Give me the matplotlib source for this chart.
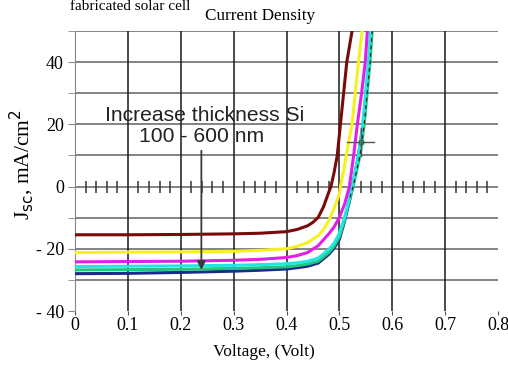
import matplotlib
matplotlib.use("Agg")
import matplotlib.pyplot as plt
import numpy as np

# ---- data ----
v_brown = [0.0, 0.1, 0.2, 0.3, 0.35, 0.40, 0.42, 0.44, 0.45, 0.46, 0.47, 0.48, 0.484, 0.49, 0.496, 0.502, 0.508, 0.514, 0.524]
j_brown = [-15.5, -15.5, -15.4, -15.2, -15.0, -14.5, -13.8, -12.6, -11.5, -9.9, -6.5, -1.8, 0.0, 4.5, 10.0, 20.0, 30.0, 40.0, 50.0]

v_yellow = [0.0, 0.1, 0.2, 0.3, 0.35, 0.40, 0.42, 0.44, 0.46, 0.47, 0.48, 0.49, 0.50, 0.502, 0.508, 0.513, 0.524, 0.536, 0.543]
j_yellow = [-21.2, -21.1, -21.0, -20.8, -20.5, -20.0, -19.2, -18.0, -15.8, -13.8, -11.0, -7.0, -2.5, 0.0, 5.0, 10.0, 20.0, 40.0, 50.0]

v_magenta = [0.0, 0.1, 0.2, 0.3, 0.35, 0.40, 0.42, 0.44, 0.46, 0.48, 0.49, 0.50, 0.51, 0.519, 0.527, 0.534, 0.542, 0.549, 0.553]
j_magenta = [-24.2, -24.1, -24.0, -23.7, -23.4, -22.8, -22.2, -21.2, -19.0, -15.2, -13.0, -9.9, -5.6, 0.0, 10.0, 20.0, 30.0, 40.0, 50.0]

v_blue = [0.0, 0.1, 0.2, 0.3, 0.35, 0.40, 0.42, 0.44, 0.46, 0.48, 0.49, 0.50, 0.51, 0.52, 0.525, 0.536, 0.545, 0.556, 0.560]
j_blue = [-28.0, -27.9, -27.6, -27.2, -26.9, -26.5, -26.1, -25.6, -24.6, -21.8, -19.8, -17.0, -11.0, -4.0, 0.0, 10.0, 20.0, 40.0, 50.0]

v_cyan = [0.0, 0.1, 0.2, 0.3, 0.35, 0.40, 0.42, 0.44, 0.46, 0.48, 0.49, 0.50, 0.51, 0.52, 0.524, 0.536, 0.544, 0.555, 0.559]
j_cyan = [-25.7, -25.6, -25.5, -25.3, -25.1, -24.8, -24.5, -24.0, -23.0, -20.2, -18.2, -15.0, -9.8, -3.0, 0.0, 10.0, 20.0, 40.0, 50.0]

v_green = [0.0, 0.1, 0.2, 0.3, 0.35, 0.40, 0.42, 0.44, 0.46, 0.48, 0.49, 0.50, 0.51, 0.52, 0.526, 0.539, 0.547, 0.558, 0.562]
j_green = [-26.8, -26.7, -26.6, -26.3, -26.1, -25.8, -25.4, -24.9, -24.0, -21.2, -19.2, -16.2, -10.5, -3.5, 0.0, 10.0, 20.0, 40.0, 50.0]

x_ticks = [0, 0.1, 0.2, 0.3, 0.4, 0.5, 0.6, 0.7, 0.8]
x_labels = ["0", "0.1", "0.2", "0.3", "0.4", "0.5", "0.6", "0.7", "0.8"]
y_ticks = [40, 20, 0, -20, -40]
y_labels = ["40", "20", "0", "- 20", "- 40"]

serif = ["Liberation Serif", "DejaVu Serif"]
sans = ["Liberation Sans", "DejaVu Sans"]

W, H = 508, 365
fig = plt.figure(figsize=(W / 100, H / 100), dpi=100)
ax = fig.add_axes([75/W, 1 - 311/H, 423/W, (311 - 31)/H])
ax.set_xlim(0, 0.8)
ax.set_ylim(-40, 50)

# grid
for yv in range(-30, 51, 10):
    ax.axhline(yv, color="#6e6e6e", lw=1.2, zorder=1)
for xv in x_ticks[1:-1]:
    ax.axvline(xv, color="#1a1a1a", lw=1.1, zorder=1)

# minor ticks on zero line
minor = [round(m + k * 0.02, 2) for m in np.arange(0, 0.8, 0.1) for k in (1, 2, 3, 4)]
ax.plot(minor, [0] * len(minor), linestyle="none", marker="|", ms=8, mew=1.1,
        color="#333333", zorder=2)

lw = 2.2
ax.plot(v_blue, j_blue, color="#1a2a8c", lw=lw, zorder=3)
ax.plot(v_green, j_green, color="#22c77a", lw=lw, zorder=4)
ax.plot(v_cyan, j_cyan, color="#22e6e0", lw=lw, zorder=5)
ax.plot(v_magenta, j_magenta, color="#e020e8", lw=lw, zorder=6)
ax.plot(v_yellow, j_yellow, color="#f5f020", lw=lw, zorder=7)
ax.plot(v_brown, j_brown, color="#7a0a0a", lw=lw, zorder=8)
ax.plot(v_green[-6:], j_green[-6:], color="#222222", lw=0.9, ls=(0, (3, 3)), zorder=9)

# cross-hair marker
cx, cy = 0.54, 14.3
ax.plot([cx - 0.025, cx + 0.025], [cy, cy], color="#555555", lw=1, zorder=10)
ax.plot([cx, cx], [cy - 4.5, cy + 4.5], color="#555555", lw=1, zorder=10)
ax.plot([cx], [cy], marker="o", ms=3.5, mfc="none", mec="#2a7a4a", zorder=11)

# annotation
ax.annotate("", xy=(0.239, -27.7), xytext=(0.239, 12.4),
            arrowprops=dict(arrowstyle="-|>,head_length=0.5,head_width=0.25",
                            color="#3a3a3a", lw=1.3), zorder=12)
ax.text(0.246, 22.9, "Increase thickness Si", ha="center", va="center",
        fontsize=15.2, family=sans, color="#222222", zorder=12)
ax.text(0.24, 16.2, "100 - 600 nm", ha="center", va="center",
        fontsize=15.2, family=sans, color="#222222", zorder=12)

# axes styling
for s in ("top", "right", "bottom"):
    ax.spines[s].set_visible(False)
ax.spines["left"].set_color("#888888")
ax.set_xticks(x_ticks)
ax.set_xticklabels(x_labels, family=serif, fontsize=13)
ax.set_yticks(y_ticks)
ax.set_yticklabels(y_labels, family=serif, fontsize=13)
ax.tick_params(axis="x", length=3, color="#555555", pad=1)
ax.tick_params(axis="y", length=5, color="#888888", pad=3)
ax.set_yticks(range(-40, 51, 10), minor=True)
ax.tick_params(axis="y", which="minor", length=5, color="#888888")

fig.text(264/W, 1 - 352/H, "Voltage, (Volt)", family=serif, fontsize=12.5,
         ha="center", va="center")
fig.text(22/W, 1 - 165/H, "J$_{\\rm sc}$, mA/cm$^2$", family=serif, fontsize=15.5,
         ha="center", va="center", rotation=90)
fig.text(260/W, 1 - 16/H, "Current Density", family=serif, fontsize=12.3,
         ha="center", va="center")

fig.text(190/W, 1 - 0.5/H, "fabricated solar cell", family=serif, fontsize=11,
         ha="right", va="top")

fig.savefig("out.png", dpi=100)
